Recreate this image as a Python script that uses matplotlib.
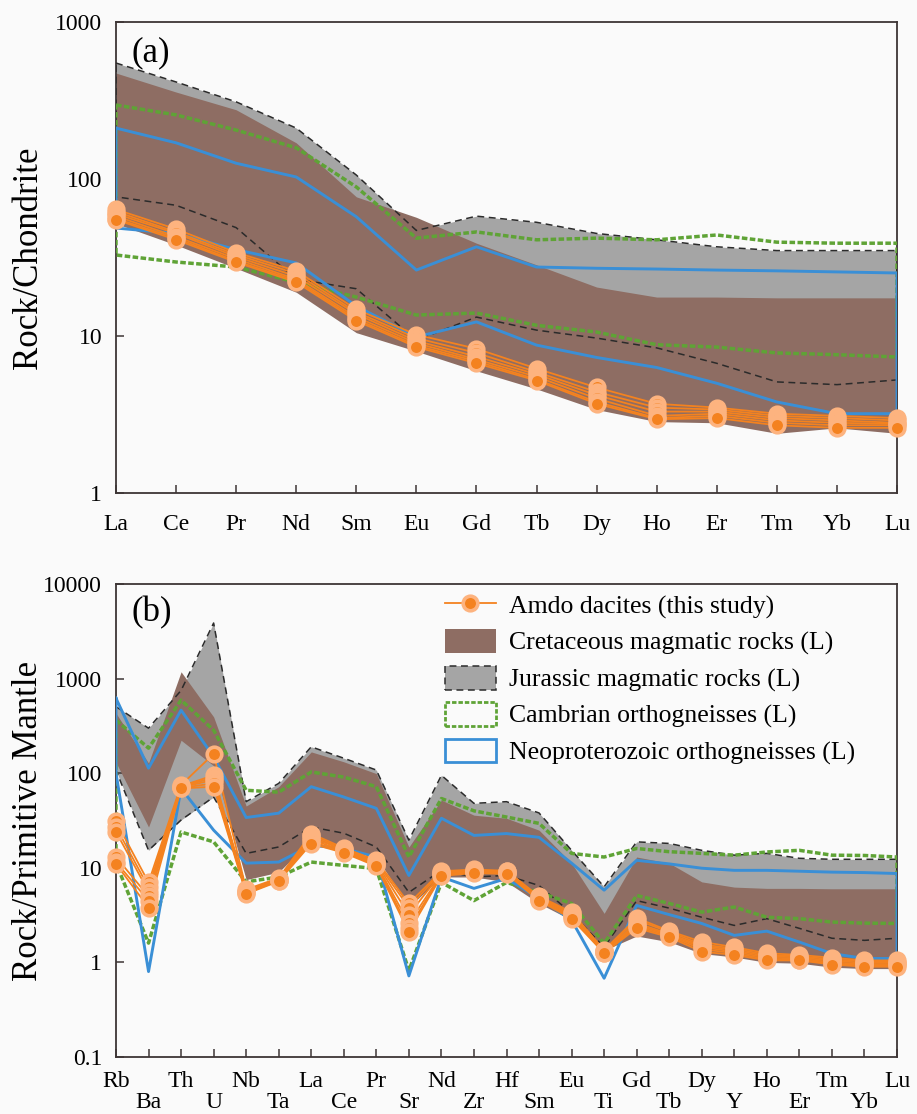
import numpy as np
import matplotlib
matplotlib.use("Agg")
import matplotlib.pyplot as plt
from matplotlib.lines import Line2D
from matplotlib.patches import Patch
from matplotlib.ticker import NullLocator, FixedLocator, FixedFormatter

plt.rcParams['font.family'] = ['Liberation Serif', 'DejaVu Serif']

# ---------------- panel (a): chondrite-normalised REE ----------------
ree = ['La', 'Ce', 'Pr', 'Nd', 'Sm', 'Eu', 'Gd', 'Tb', 'Dy', 'Ho', 'Er', 'Tm', 'Yb', 'Lu']

cre_up_a = [473, 358, 276, 170, 77, 57, 39, 28.4, 20.5, 17.7, 17.7, 17.5, 17.5, 17.5]
cre_lo_a = [52, 38, 27, 19, 10.5, 8.0, 6.0, 4.6, 3.4, 2.85, 2.8, 2.4, 2.6, 2.4]
jur_up_a = [548, 415, 310, 211, 106, 47, 58, 53, 45, 41, 37, 35, 35, 35]
jur_lo_a = [77, 68, 49, 23, 20, 9.4, 13.2, 10.9, 9.7, 8.4, 6.7, 5.1, 4.9, 5.25]
cam_up_a = [296, 256, 205, 158, 89, 42, 46, 41, 42, 41, 44, 39.6, 39, 39]
cam_lo_a = [32.8, 29.6, 27.5, 22, 17.7, 13.6, 14, 11.7, 10.6, 8.8, 8.5, 7.8, 7.6, 7.35]
neo_up_a = [211, 170, 126, 103, 57.5, 26.3, 37, 27.5, 27, 26.7, 26.3, 26, 25.6, 25.2]
neo_lo_a = [48.7, 45, 35.5, 29.2, 15.5, 9.85, 12.3, 8.75, 7.3, 6.3, 5.0, 3.8, 3.2, 3.2]

amdo_a = [
    [64, 48, 34, 26, 14.8, 10.2, 8.3, 6.2, 4.7, 3.7, 3.5, 3.2, 3.1, 3.0],
    [62, 46, 33, 25, 14.2, 9.7, 7.8, 5.9, 4.4, 3.5, 3.4, 3.1, 3.0, 2.9],
    [60, 45, 32, 24, 13.8, 9.3, 7.4, 5.7, 4.2, 3.3, 3.3, 3.0, 2.9, 2.8],
    [58, 43, 31, 23, 13.2, 9.0, 7.1, 5.5, 4.0, 3.1, 3.2, 2.9, 2.8, 2.75],
    [56, 42, 30, 22.5, 12.8, 8.7, 6.9, 5.3, 3.8, 3.0, 3.1, 2.8, 2.7, 2.7],
    [55, 41, 29.5, 22, 12.5, 8.5, 6.7, 5.2, 3.7, 2.95, 3.0, 2.7, 2.6, 2.6],
]

# ---------------- panel (b): primitive-mantle-normalised spider ----------------
spider = ['Rb', 'Ba', 'Th', 'U', 'Nb', 'Ta', 'La', 'Ce', 'Pr', 'Sr', 'Nd', 'Zr', 'Hf',
          'Sm', 'Eu', 'Ti', 'Gd', 'Tb', 'Dy', 'Y', 'Ho', 'Er', 'Tm', 'Yb', 'Lu']

cre_up_b = [430, 128, 1180, 394, 45, 72, 168, 132, 99, 16.6, 52, 36, 33.4, 25, 11.2, 3.3,
            13, 11.2, 7.1, 6.25, 6.06, 6.06, 6.0, 6.0, 6.0]
cre_lo_b = [130, 27, 223, 120, 7.5, 9.0, 19.6, 16.6, 13, 3.85, 8.0, 8.0, 7.1, 4.2, 2.8, 1.34,
            1.9, 1.65, 1.24, 1.14, 1.0, 0.98, 0.89, 0.86, 0.86]
jur_up_b = [505, 299, 750, 3870, 50, 78, 190, 144, 108, 19.6, 95, 48, 50, 38, 15.3, 6.3,
            18.8, 18.1, 15.3, 13.6, 14.2, 12.6, 12.3, 12.3, 12.3]
jur_lo_b = [107, 15.3, 32, 56, 14.2, 16.6, 27, 23.2, 16.6, 5.5, 9.4, 8.0, 8.3, 6.5, 3.3, 1.45,
            4.5, 3.75, 3.0, 2.46, 2.9, 2.29, 1.8, 1.71, 1.8]
cam_up_b = [364, 184, 592, 285, 66, 63, 103, 91, 72, 13, 54, 40, 34.4, 29.5, 14.2, 13,
            16, 14.8, 14.2, 13.6, 14.7, 15.3, 13.6, 13.5, 13]
cam_lo_b = [11.2, 1.6, 23.9, 18.8, 7.1, 8.0, 11.5, 10.6, 9.8, 0.82, 7.0, 4.5, 7.0, 5.5, 4.2, 1.59,
            5.1, 4.2, 3.4, 3.85, 3.0, 2.9, 2.67, 2.6, 2.58]
neo_up_b = [620, 113, 464, 149, 34, 37.8, 72, 56, 42.5, 8.3, 33.4, 22, 23, 21, 11.2, 5.8,
            12, 11, 9.9, 9.4, 9.4, 9.2, 9.0, 8.9, 8.7]
neo_lo_b = [100, 0.8, 69, 25, 11.2, 11.5, 17.3, 16, 13, 0.72, 8.0, 6.06, 7.7, 4.76, 2.8, 0.68,
            4.0, 3.2, 2.58, 1.93, 2.14, 1.64, 1.24, 1.1, 1.1]

amdo_b = [
    [31, 7.0, 75, 160, 5.9, 7.8, 23, 16.2, 12, 4.2, 9.2, 9.6, 9.3, 5.0, 3.4, 1.35, 2.95, 2.15, 1.65, 1.45, 1.25, 1.2, 1.12, 1.05, 1.05],
    [27, 6.2, 73, 95, 5.7, 7.6, 22, 15.8, 11.6, 3.8, 9.0, 9.4, 9.2, 4.9, 3.3, 1.33, 2.8, 2.1, 1.55, 1.4, 1.2, 1.16, 1.08, 1.02, 1.02],
    [24, 5.6, 72, 90, 5.6, 7.5, 21, 15.4, 11.3, 3.2, 8.8, 9.3, 9.0, 4.8, 3.2, 1.31, 2.6, 2.0, 1.5, 1.35, 1.16, 1.13, 1.04, 0.99, 0.99],
    [13, 5.0, 71, 85, 5.5, 7.4, 20, 15, 11, 2.6, 8.6, 9.1, 8.9, 4.7, 3.1, 1.29, 2.5, 1.95, 1.45, 1.3, 1.12, 1.1, 1.0, 0.96, 0.96],
    [11.5, 4.5, 70, 78, 5.4, 7.3, 19, 14.7, 10.7, 2.3, 8.4, 9.0, 8.8, 4.6, 3.0, 1.27, 2.4, 1.9, 1.38, 1.25, 1.08, 1.07, 0.97, 0.93, 0.93],
    [11, 3.8, 69, 72, 5.3, 7.2, 18, 14.4, 10.4, 2.1, 8.2, 8.8, 8.6, 4.5, 2.9, 1.25, 2.3, 1.85, 1.3, 1.2, 1.05, 1.05, 0.95, 0.9, 0.9],
]

legend_labels = ['Amdo dacites (this study)', 'Cretaceous magmatic rocks (L)',
                 'Jurassic magmatic rocks (L)', 'Cambrian orthogneisses (L)',
                 'Neoproterozoic orthogneisses (L)']

BG = '#fafafa'
BROWN = '#8e6d63'
GRAY = '#a5a5a5'
GREEN = '#5fa336'
BLUE = '#3a8fd6'
ORANGE = '#f4821f'
PEACH = '#fdb37f'
SPINE = '#3d3535'

green_ls = (0, (1.6, 0.7))
jur_ls = (0, (4.5, 3))


def outline(x, up, lo):
    return np.r_[x, x[::-1], x[0]], np.r_[up, lo[::-1], up[0]]


def draw(ax, names, cre_up, cre_lo, jur_up, jur_lo, cam_up, cam_lo, neo_up, neo_lo, samples):
    x = np.arange(len(names))
    ax.set_facecolor(BG)
    ax.fill_between(x, jur_lo, jur_up, color=GRAY, lw=0, zorder=1)
    ax.fill_between(x, cre_lo, cre_up, color=BROWN, lw=0, zorder=2)
    ox, oy = outline(x, jur_up, jur_lo)
    ax.plot(ox, oy, color='#2b2b2b', lw=1.1, ls=jur_ls, zorder=3)
    ox, oy = outline(x, cam_up, cam_lo)
    ax.plot(ox, oy, color=GREEN, lw=2.5, ls=green_ls, zorder=4)
    ox, oy = outline(x, neo_up, neo_lo)
    ax.plot(ox, oy, color=BLUE, lw=2.1, zorder=4.5)
    for s in samples:
        ax.plot(x, s, color=ORANGE, lw=1.3, zorder=5)
    for s in samples:
        ax.plot(x, s, ls='none', marker='o', ms=10.5, mfc=ORANGE, mec=PEACH, mew=2.6,
                zorder=6, clip_on=False)
    ax.set_yscale('log')
    ax.set_xlim(0, len(names) - 1)
    ax.yaxis.set_minor_locator(NullLocator())
    for sp in ax.spines.values():
        sp.set_color(SPINE)
        sp.set_linewidth(1.3)
    ax.tick_params(axis='both', which='both', direction='in', length=6, width=1.1,
                   color=SPINE, labelsize=17, top=False, right=False)
    return x


fig = plt.figure(figsize=(9.17, 11.14), dpi=100, facecolor=BG)
ax1 = fig.add_axes([116 / 917, 1 - 493 / 1114, 781 / 917, 471 / 1114])
ax2 = fig.add_axes([116 / 917, 1 - 1057 / 1114, 781 / 917, 473 / 1114])

xa = draw(ax1, ree, cre_up_a, cre_lo_a, jur_up_a, jur_lo_a, cam_up_a, cam_lo_a,
          neo_up_a, neo_lo_a, amdo_a)
ax1.set_ylim(1, 1000)
ax1.yaxis.set_major_locator(FixedLocator([1, 10, 100, 1000]))
ax1.yaxis.set_major_formatter(FixedFormatter(['1', '10', '100', '1000']))
ax1.set_xticks(xa)
ax1.set_xticklabels(ree)
ax1.tick_params(axis='x', pad=15)
ax1.tick_params(axis='y', pad=10)
ax1.set_ylabel('Rock/Chondrite', fontsize=25, va='center')
ax1.yaxis.set_label_coords(-0.112, 0.5)
ax1.text(0.02, 0.935, '(a)', transform=ax1.transAxes, fontsize=25, va='center', ha='left')

xb = draw(ax2, spider, cre_up_b, cre_lo_b, jur_up_b, jur_lo_b, cam_up_b, cam_lo_b,
          neo_up_b, neo_lo_b, amdo_b)
ax2.set_ylim(0.1, 10000)
ax2.yaxis.set_major_locator(FixedLocator([0.1, 1, 10, 100, 1000, 10000]))
ax2.yaxis.set_major_formatter(FixedFormatter(['0.1', '1', '10', '100', '1000', '10000']))
ax2.set_xticks(xb[::2])
ax2.set_xticklabels(spider[::2])
ax2.set_xticks(xb[1::2], minor=True)
ax2.set_xticklabels(spider[1::2], minor=True)
ax2.tick_params(axis='x', which='major', pad=10)
ax2.tick_params(axis='x', which='minor', pad=25)
ax2.tick_params(axis='y', pad=10)
ax2.set_ylabel('Rock/Primitive Mantle', fontsize=25, va='center')
ax2.yaxis.set_label_coords(-0.112, 0.5)
ax2.text(0.02, 0.94, '(b)', transform=ax2.transAxes, fontsize=25, va='center', ha='left')

handles = [
    Line2D([], [], color=ORANGE, lw=1.3, marker='o', ms=10.5, mfc=ORANGE, mec=PEACH, mew=2.6),
    Patch(facecolor=BROWN, edgecolor='none'),
    Patch(facecolor=GRAY, edgecolor='#2b2b2b', lw=1.1, ls=jur_ls),
    Patch(facecolor='none', edgecolor=GREEN, lw=2.0, ls=green_ls),
    Patch(facecolor='none', edgecolor=BLUE, lw=2.0),
]
ax2.legend(handles, legend_labels, loc='upper left', bbox_to_anchor=(0.421, 0.981),
           frameon=False, fontsize=18.5, borderpad=0, borderaxespad=0,
           handlelength=2.0, handleheight=1.05, handletextpad=0.5, labelspacing=0.4)

fig.savefig('out.png', dpi=100, facecolor=BG)
